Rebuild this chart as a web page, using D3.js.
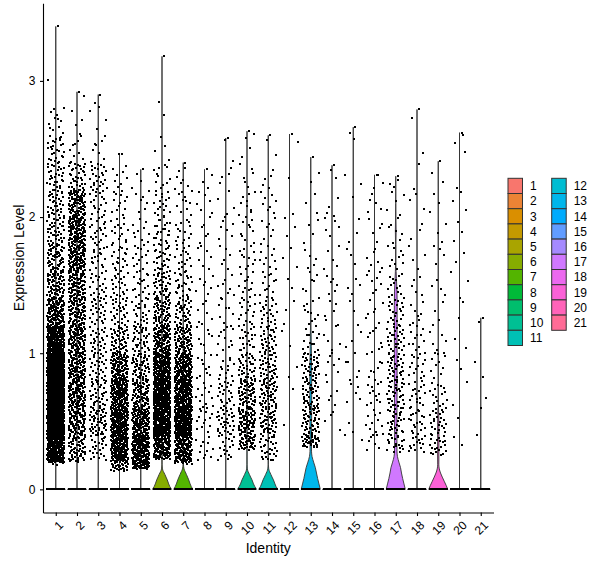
<!DOCTYPE html>
<html>
<head>
<meta charset="utf-8">
<title>Expression Level by Identity</title>
<script src="https://d3js.org/d3.v7.min.js"></script>
<style>
  body { margin: 0; background: #fff; }
  svg { display: block; font-family: "Liberation Sans", Arial, sans-serif; }
</style>
</head>
<body>
<div id="chart"></div>
<script>
// identities (x categories)
const groups = ["1","2","3","4","5","6","7","8","9","10","11","12","13","14","15","16","17","18","19","20","21"];
const yTicks = [0, 1, 2, 3];

// lower edge of each expression bin (bin width 0.2)
const binLows = [0, 0.2, 0.4, 0.6, 0.8, 1.0, 1.2, 1.4, 1.6, 1.8, 2.0, 2.2, 2.4, 2.6, 2.8, 3.0, 3.2, 3.4];
const binWidth = 0.2;

// number of non-zero cells per bin, one row per identity (read off the jitter cloud)
const binCounts = [
  [4, 250, 380, 400, 360, 220, 120, 75, 55, 42, 35, 30, 26, 12, 0, 1, 0, 0],
  [2, 60, 85, 95, 95, 90, 85, 85, 100, 105, 85, 35, 9, 4, 1, 0, 0, 0],
  [0, 25, 50, 35, 30, 28, 25, 22, 20, 20, 20, 24, 8, 3, 2, 0, 0, 0],
  [25, 160, 160, 140, 110, 50, 30, 22, 20, 16, 13, 8, 1, 0, 0, 0, 0, 0],
  [40, 180, 120, 75, 55, 35, 24, 18, 15, 10, 7, 3, 0, 0, 0, 0, 0, 0],
  [0, 130, 220, 200, 160, 105, 65, 42, 28, 22, 18, 11, 4, 1, 1, 0, 0, 0],
  [4, 160, 220, 190, 140, 75, 42, 25, 18, 14, 11, 7, 0, 0, 0, 0, 0, 0],
  [0, 12, 14, 12, 10, 8, 7, 7, 7, 6, 6, 3, 0, 0, 0, 0, 0, 0],
  [0, 18, 35, 22, 14, 11, 8, 8, 6, 6, 5, 4, 2, 0, 0, 0, 0, 0],
  [0, 45, 80, 60, 38, 24, 16, 14, 12, 10, 9, 6, 3, 1, 0, 0, 0, 0],
  [0, 30, 50, 52, 42, 34, 22, 14, 10, 8, 8, 5, 2, 0, 0, 0, 0, 0],
  [0, 0, 1, 1, 2, 2, 3, 2, 3, 3, 1, 1, 1, 0, 0, 0, 0, 0],
  [0, 35, 45, 42, 38, 16, 10, 7, 5, 4, 3, 2, 0, 0, 0, 0, 0, 0],
  [0, 0, 4, 5, 6, 6, 6, 6, 5, 5, 4, 2, 0, 0, 0, 0, 0, 0],
  [0, 2, 2, 5, 6, 3, 3, 4, 3, 3, 1, 2, 1, 1, 0, 0, 0, 0],
  [0, 6, 12, 12, 8, 8, 7, 7, 7, 5, 5, 3, 0, 0, 0, 0, 0, 0],
  [0, 20, 30, 34, 34, 30, 22, 15, 10, 7, 5, 3, 0, 0, 0, 0, 0, 0],
  [0, 15, 20, 18, 15, 12, 8, 5, 4, 3, 3, 2, 1, 1, 0, 0, 0, 0],
  [0, 22, 25, 15, 10, 6, 4, 4, 4, 3, 3, 2, 0, 0, 0, 0, 0, 0],
  [0, 2, 1, 2, 2, 2, 2, 3, 2, 3, 3, 1, 2, 1, 0, 0, 0, 0],
  [0, 0, 2, 1, 2, 0, 1, 0, 0, 0, 0, 0, 0, 0, 0, 0, 0, 0]
];

// cells sitting exactly at zero, lowest and highest non-zero value per identity
const zeroCounts = [150, 150, 120, 120, 120, 150, 150, 100, 100, 120, 120, 80, 100, 80, 80, 80, 100, 80, 80, 80, 60];
const minValues = [0.18, 0.21, 0.21, 0.13, 0.15, 0.22, 0.18, 0.20, 0.19, 0.29, 0.21, 0.40, 0.31, 0.40, 0.30, 0.26, 0.27, 0.27, 0.25, 0.30, 0.27];
const maxValues = [3.40, 2.92, 2.90, 2.46, 2.35, 3.18, 2.40, 2.35, 2.58, 2.63, 2.60, 2.61, 2.44, 2.38, 2.66, 2.31, 2.30, 2.79, 2.41, 2.62, 1.26];

// violin outlines: [value, width as share of the full violin width]
const spike = [[0, 1], [0.004, 0]];
const bump6 = [[0, 1], [0.02, 0.82], [0.04, 0.7], [0.07, 0.55], [0.09, 0.42], [0.11, 0.3], [0.13, 0.15], [0.15, 0.05], [0.18, 0.015], [0.3, 0.01]];
const bump7 = [[0, 1], [0.02, 0.84], [0.04, 0.72], [0.07, 0.57], [0.09, 0.45], [0.11, 0.33], [0.13, 0.2], [0.15, 0.08], [0.19, 0.02], [0.3, 0.01]];
const bump10 = [[0, 1], [0.02, 0.82], [0.04, 0.68], [0.07, 0.52], [0.09, 0.38], [0.11, 0.25], [0.13, 0.12], [0.15, 0.04], [0.18, 0.015], [0.3, 0.01]];
const bump11 = [[0, 1], [0.02, 0.82], [0.04, 0.7], [0.07, 0.54], [0.09, 0.4], [0.11, 0.27], [0.13, 0.14], [0.15, 0.05], [0.18, 0.015], [0.3, 0.01]];
const bump13 = [[0, 1], [0.04, 0.86], [0.08, 0.72], [0.12, 0.6], [0.16, 0.48], [0.2, 0.3], [0.24, 0.14], [0.28, 0.08], [0.35, 0.07], [0.5, 0.09], [0.7, 0.1], [0.9, 0.09], [1.05, 0.06], [1.2, 0.025], [1.4, 0.01], [1.8, 0.006]];
const bump17 = [[0, 1], [0.04, 0.86], [0.08, 0.72], [0.12, 0.6], [0.16, 0.5], [0.2, 0.33], [0.24, 0.18], [0.28, 0.13], [0.4, 0.12], [0.6, 0.13], [0.8, 0.14], [1.0, 0.14], [1.2, 0.14], [1.35, 0.15], [1.45, 0.13], [1.55, 0.07], [1.65, 0.02], [1.8, 0.02], [1.9, 0.04], [2.0, 0.02], [2.1, 0.005]];
const bump19 = [[0, 1], [0.03, 0.82], [0.06, 0.62], [0.09, 0.42], [0.12, 0.24], [0.15, 0.11], [0.18, 0.06], [0.3, 0.07], [0.45, 0.07], [0.55, 0.05], [0.62, 0.02], [0.7, 0.005]];
const violinShapes = [spike, spike, spike, spike, spike, bump6, bump7, spike, spike, bump10, bump11, spike, bump13, spike, spike, spike, bump17, spike, bump19, spike, spike];

// ggplot hue palette (polar LUV), like scales::hue_pal()
function hueColor(i, n) {
  const h = (15 + 360 * i / n) * Math.PI / 180, c = 100, l = 65;
  const wu = 0.1978398, wv = 0.4683363;
  const Y = 100 * (l > 7.999592 ? Math.pow((l + 16) / 116, 3) : l / 903.3);
  const u = c * Math.cos(h) / (13 * l) + wu;
  const v = c * Math.sin(h) / (13 * l) + wv;
  const X = 9 * Y * u / (4 * v);
  const Z = -X / 3 - 5 * Y + 3 * Y / v;
  const g = t => t > 0.00304 ? 1.055 * Math.pow(t, 1 / 2.4) - 0.055 : 12.92 * t;
  const cl = t => Math.round(255 * Math.max(0, Math.min(1, g(t))));
  return d3.rgb(
    cl((3.240479 * X - 1.537150 * Y - 0.498535 * Z) / 100),
    cl((-0.969256 * X + 1.875992 * Y + 0.041556 * Z) / 100),
    cl((0.055648 * X - 0.204043 * Y + 1.057311 * Z) / 100)
  ).formatHex();
}
const colors = groups.map((g, i) => hueColor(i, groups.length));

const W = 600, H = 568;
const panelLeft = 43, panelRight = 493.5, panelTop = 3.3, panelBottom = 512.5;

const svg = d3.select("#chart").append("svg")
  .attr("width", W)
  .attr("height", H);

const x = d3.scalePoint()
  .domain(groups)
  .range([panelLeft, panelRight])
  .padding(0.6);

const yMax = d3.max(maxValues);
const pad = 0.05 * yMax;
const y = d3.scaleLinear()
  .domain([-pad, yMax + pad])
  .range([panelBottom, panelTop]);

const step = x.step();
const halfViolin = 0.45 * step;
const jitter = 0.4 * step;

// violins
const area = d3.area()
  .y(d => y(d[0]))
  .x0(d => -d[1] * halfViolin)
  .x1(d => d[1] * halfViolin);

groups.forEach((g, i) => {
  const shape = violinShapes[i];
  const prof = shape.filter(d => d[0] < maxValues[i]);
  prof.push([maxValues[i], 0]);
  area.curve(shape === spike ? d3.curveLinear : d3.curveMonotoneY);
  svg.append("path")
    .attr("transform", "translate(" + x(g) + ",0)")
    .attr("d", area(prof))
    .attr("fill", colors[i])
    .attr("stroke", "#333333")
    .attr("stroke-width", 0.9)
    .attr("stroke-linejoin", "round");
});

// jittered cells: even spread inside each bin (Halton 2/3 sequence)
function halton(n, base) {
  let f = 1, r = 0;
  while (n > 0) { f /= base; r += f * (n % base); n = Math.floor(n / base); }
  return r;
}
const pts = [];
groups.forEach((g, i) => {
  let idx = 1 + i * 977;
  for (let k = 0; k < zeroCounts[i]; k++) {
    pts.push({ g: g, v: 0, j: halton(idx++, 2) });
  }
  binLows.forEach((lo, b) => {
    const n = binCounts[i][b];
    const lo2 = Math.max(lo, minValues[i]);
    const hi2 = Math.min(lo + binWidth, maxValues[i]);
    for (let k = 0; k < n; k++) {
      pts.push({ g: g, v: lo2 + (hi2 - lo2) * halton(idx, 3), j: halton(idx, 2) });
      idx++;
    }
  });
  pts.push({ g: g, v: maxValues[i], j: 0.62 });
});

const ps = 2;
svg.append("g")
  .attr("shape-rendering", "crispEdges")
  .selectAll("rect")
  .data(pts)
  .join("rect")
  .attr("x", d => Math.round(x(d.g) + (d.j * 2 - 1) * jitter - ps / 2))
  .attr("y", d => Math.round(y(d.v) - ps / 2))
  .attr("width", ps)
  .attr("height", ps)
  .attr("fill", "#000");

// axes
const yAxis = svg.append("g")
  .attr("transform", "translate(" + panelLeft + ",0)")
  .call(d3.axisLeft(y).tickValues(yTicks).tickFormat(d3.format("d"))
    .tickSize(3).tickSizeOuter(0).tickPadding(4.5));

const xAxis = svg.append("g")
  .attr("transform", "translate(0," + panelBottom + ")")
  .call(d3.axisBottom(x).tickSize(3.5).tickSizeOuter(0));

[yAxis, xAxis].forEach(a => {
  a.select(".domain").attr("stroke", "#000").attr("stroke-width", 1.1);
  a.selectAll(".tick line").attr("stroke", "#000").attr("stroke-width", 1.1);
  a.selectAll(".tick text").attr("fill", "#000").style("font-size", "12px")
    .style("font-family", "'Liberation Sans', Arial, sans-serif");
});

xAxis.selectAll(".tick text")
  .attr("x", 0)
  .attr("y", 0)
  .attr("dy", "0.72em")
  .attr("text-anchor", "end")
  .attr("transform", "translate(1.5,7.5) rotate(-45)");

svg.append("text")
  .attr("x", (panelLeft + panelRight) / 2)
  .attr("y", 553)
  .attr("text-anchor", "middle")
  .style("font-size", "14px")
  .text("Identity");

svg.append("text")
  .attr("transform", "translate(24," + ((panelTop + panelBottom) / 2) + ") rotate(-90)")
  .attr("text-anchor", "middle")
  .style("font-size", "14px")
  .text("Expression Level");

// legend, two columns
const keyW = 14.5, keyH = 15.2, keyTop = 178.3;
const colX = [508, 551.7];
const legend = svg.append("g");
groups.forEach((g, i) => {
  const col = i < 11 ? 0 : 1;
  const row = i < 11 ? i : i - 11;
  const ky = keyTop + row * keyH;
  legend.append("rect")
    .attr("x", colX[col])
    .attr("y", ky)
    .attr("width", keyW)
    .attr("height", keyH)
    .attr("fill", colors[i])
    .attr("stroke", "#333333")
    .attr("stroke-width", 1);
  legend.append("text")
    .attr("x", colX[col] + keyW + 7.5)
    .attr("y", ky + keyH / 2)
    .attr("dy", "0.35em")
    .style("font-size", "12px")
    .text(g);
});
</script>
</body>
</html>
